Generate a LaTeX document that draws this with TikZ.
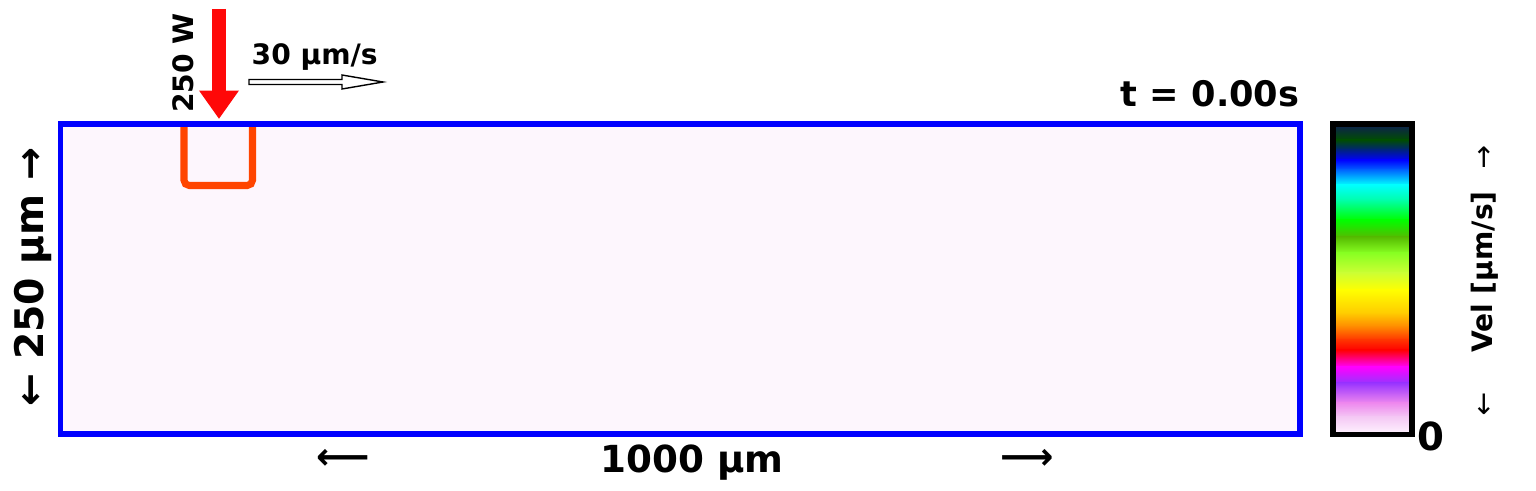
\documentclass[tikz,border=0pt]{standalone}
\usepackage{fontspec}
\setmainfont{DejaVu Sans}
\usetikzlibrary{arrows.meta, positioning}
\definecolor{domblue}{RGB}{0,0,255}
\definecolor{domfill}{RGB}{253,246,253}
\definecolor{poolorange}{RGB}{255,69,0}
\definecolor{laserred}{RGB}{255,8,8}
% colour bar stops, top to bottom
\definecolor{cbA}{HTML}{0C2646}
\definecolor{cbB}{HTML}{004D00}
\definecolor{cbC}{HTML}{00227F}
\definecolor{cbD}{HTML}{0000FF}
\definecolor{cbE}{HTML}{0066FF}
\definecolor{cbF}{HTML}{00FFFF}
\definecolor{cbG}{HTML}{00FFAA}
\definecolor{cbH}{HTML}{00FF00}
\definecolor{cbI}{HTML}{55BB00}
\definecolor{cbJ}{HTML}{88FF22}
\definecolor{cbK}{HTML}{CCFF33}
\definecolor{cbL}{HTML}{FFFF00}
\definecolor{cbM}{HTML}{FFCC00}
\definecolor{cbN}{HTML}{FF8800}
\definecolor{cbO}{HTML}{FF3300}
\definecolor{cbP}{HTML}{FF0000}
\definecolor{cbQ}{HTML}{FF00FF}
\definecolor{cbR}{HTML}{9933FF}
\definecolor{cbS}{HTML}{EE88EE}
\definecolor{cbT}{HTML}{F4C8F4}
\definecolor{cbU}{HTML}{FFF4FF}

\begin{document}
\begin{tikzpicture}[x=0.01cm, y=-0.01cm,
    every node/.style={inner sep=0pt},
    smalltxt/.style={font=\fontsize{8}{9}\selectfont\bfseries},
    midtxt/.style={font=\fontsize{10}{12}\selectfont\bfseries},
    bigtxt/.style={font=\fontsize{10.6}{12}\selectfont\bfseries}]
    \useasboundingbox (0,0) rectangle (1536,491);

    % Domain
    \coordinate (domNW) at (60.5,123.8);
    \coordinate (domSE) at (1300,434);
    \fill[domfill] (domNW) rectangle (domSE);

    % Melt pool outline
    \draw[poolorange, line width=2pt, rounded corners=1.5pt]
        (184,124) -- (184,185.5) -- (252.5,185.5) -- (252.5,124);

    % Domain border
    \draw[domblue, line width=1.6pt] (domNW) rectangle (domSE);

    % Laser
    \coordinate (laserTop) at (219,9);
    \coordinate (laserTip) at (219,119);
    \draw[laserred, line width=4pt, -{Triangle[length=8.1pt, width=10.8pt]}]
        (laserTop) -- (laserTip);
    \node[smalltxt, rotate=90] (power) at (183,63) {250 W};

    % Scan speed
    \node[smalltxt, anchor=base west] (speed) at (251,65) {30 µm/s};
    \draw[fill=white, line width=0.4pt]
        (249,79.5) -- (342,79.5) -- (342,75) -- (383,82) -- (342,89)
        -- (342,84.5) -- (249,84.5) -- cycle;

    % Time stamp
    \node[midtxt, anchor=base east] (time) at (1300,107) {t = 0.00s};

    % Dimensions
    \node[font=\fontsize{11.2}{13}\selectfont\bfseries, rotate=90, anchor=base] (height) at (44,277) {← 250 µm →};
    \node[bigtxt, anchor=base] (width) at (692,472) {1000 µm};
    \node[bigtxt] (widthL) at (343,459) {⟵};
    \node[bigtxt] (widthR) at (1027,459) {⟶};

    % Colour bar
    \foreach \ya/\ca/\yb/\cb in {127/cbA/140/cbB, 140/cbB/150/cbC,
        150/cbC/160/cbD, 160/cbD/170/cbE, 170/cbE/185/cbF, 185/cbF/200/cbG,
        200/cbG/220/cbH, 220/cbH/237/cbI, 237/cbI/253/cbJ, 253/cbJ/273/cbK,
        273/cbK/290/cbL, 290/cbL/313/cbM, 313/cbM/327/cbN, 327/cbN/340/cbO,
        340/cbO/350/cbP, 350/cbP/367/cbQ, 367/cbQ/383/cbR, 383/cbR/403/cbS,
        403/cbS/417/cbT, 417/cbT/434/cbU} {
        \shade[top color=\ca, bottom color=\cb] (1334,\ya-0.3) rectangle (1411,\yb+0.3);
    }
    \draw[line width=1.5pt] (1333,124) rectangle (1412,434.7);
    \node[font=\fontsize{11}{13}\selectfont\bfseries, anchor=base west] (zero) at (1417,450) {0};

    % Colour bar label
    \node[smalltxt, rotate=90] (vel) at (1485,272) {Vel [µm/s]};
    \node[font=\fontsize{8}{9}\selectfont] (velUp) at (1484,157) {↑};
    \node[font=\fontsize{8}{9}\selectfont] (velDown) at (1484,404) {↓};
\end{tikzpicture}
\end{document}
